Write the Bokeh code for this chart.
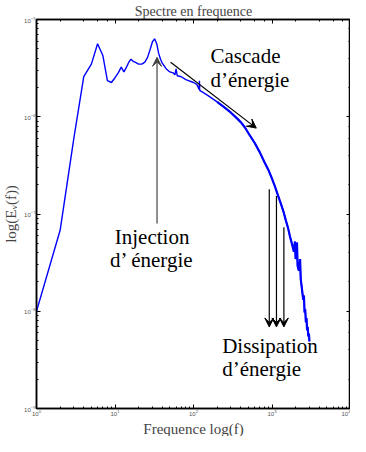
from bokeh.plotting import figure
from bokeh.models import Arrow, VeeHead, LogAxis, CustomJSTickFormatter, LogTicker, Title
from bokeh.core.properties import value
from bokeh.embed import file_html
from bokeh.resources import INLINE

# --- data (frequency, energy) ---
freq = [1, 2, 3, 4, 5, 6, 7, 8, 9, 10, 11, 12, 13, 14, 15, 16, 17, 18, 19, 20,
        22, 24, 26, 28, 30, 32, 34, 36, 38, 40, 45, 50, 55, 58, 60, 62, 70, 80,
        100, 110, 118, 119, 120, 150, 200, 250, 300, 350, 400, 450, 500, 600,
        700, 800, 900, 1000, 1100, 1200, 1300, 1400, 1500, 1600, 1700, 1800,
        1900, 1960, 2000, 2080, 2120, 2200, 2280, 2320, 2400, 2500, 2550, 2600,
        2650, 2700, 2750, 2800, 2850, 2900, 2950, 3000]
energy = [1.0e-8, 6.8e-8, 6.1e-7, 2.58e-6, 3.48e-6, 5.64e-6, 4.27e-6, 2.35e-6,
          2.25e-6, 2.52e-6, 2.83e-6, 3.24e-6, 2.89e-6, 3.24e-6, 3.64e-6, 3.90e-6,
          3.72e-6, 3.64e-6, 3.56e-6, 3.48e-6, 3.48e-6, 3.64e-6, 4.08e-6, 4.91e-6,
          5.90e-6, 6.32e-6, 5.64e-6, 4.48e-6, 3.90e-6, 3.56e-6, 3.10e-6, 2.89e-6,
          2.83e-6, 2.70e-6, 3.10e-6, 2.64e-6, 2.58e-6, 2.41e-6, 2.25e-6, 2.15e-6,
          1.91e-6, 2.35e-6, 1.87e-6, 1.67e-6, 1.42e-6, 1.24e-6, 1.10e-6, 9.8e-7,
          8.8e-7, 7.8e-7, 6.8e-7, 5.4e-7, 4.3e-7, 3.42e-7, 2.84e-7, 2.31e-7,
          1.88e-7, 1.53e-7, 1.27e-7, 1.06e-7, 8.6e-8, 7.2e-8, 5.8e-8, 4.9e-8,
          4.1e-8, 5.2e-8, 3.44e-8, 5.1e-8, 2.92e-8, 2.61e-8, 3.44e-8, 2.17e-8,
          1.73e-8, 1.31e-8, 1.45e-8, 9.7e-9, 1.05e-8, 7.7e-9, 8.5e-9, 6.4e-9,
          6.9e-9, 5.5e-9, 5.9e-9, 4.9e-9]

TITLE = "Spectre en frequence"
X_LABEL = "Frequence log(f)"
Y_LABEL = "log(Eᵥ(f))"
X_RANGE = (1, 1e4)
Y_RANGE = (1e-9, 1e-5)

# annotation anchors (data coordinates)
inj_x = 34.3
inj_y = (8.0e-8, 4.08e-6)
inj_text = ["Injection", "d\u2019 énergie"]
inj_text_pos = (29.7, [5.83e-8, 3.36e-8])

casc_start = (51.1, 3.64e-6)
casc_end = (631, 7.64e-7)
casc_text = ["Cascade", "d\u2019énergie"]
casc_text_pos = (164.8, [4.18e-6, 2.36e-6])

diss_x = [923, 1140, 1417]
diss_y_start = [1.80e-7, 1.53e-7, 7.3e-8]
diss_y_end = 6.9e-9
diss_text = ["Dissipation", "d\u2019énergie"]
diss_text_pos = (232, [4.35e-9, 2.56e-9])

SERIF = "Liberation Serif"

p = figure(width=350, height=436, x_axis_type="log", y_axis_type="log",
           x_range=X_RANGE, y_range=Y_RANGE, output_backend="svg",
           toolbar_location=None, title=TITLE,
           min_border_left=0, min_border_right=0, min_border_top=0, min_border_bottom=0)
p.title.align = "center"
p.title.text_font = SERIF
p.title.text_font_size = "14px"
p.title.text_font_style = "normal"
p.title.standoff = 2
p.title.offset = 0
p.xgrid.visible = False
p.ygrid.visible = False
p.outline_line_color = "black"
p.outline_line_width = 1.5

for ax in (p.xaxis[0], p.yaxis[0]):
    ax.major_tick_in = 4
    ax.major_tick_out = 0
    ax.minor_tick_in = 2
    ax.minor_tick_out = 0
    ax.axis_line_width = 1.5
    ax.major_label_text_font_size = "6px"
    ax.major_label_text_color = "#555555"
    ax.major_label_standoff = 1
    ax.axis_label_text_font = SERIF
    ax.axis_label_text_font_style = "normal"
    ax.axis_label_text_font_size = "15px"
    ax.axis_label_standoff = 2

p.yaxis.axis_label = Y_LABEL
p.add_layout(Title(text=X_LABEL, align="center", text_font=SERIF, text_font_size="15px",
                   text_font_style="normal", standoff=0, offset=0), "below")

blank = CustomJSTickFormatter(code="return ''")
for loc in ("above", "right"):
    a = LogAxis(ticker=LogTicker(), formatter=blank, major_tick_in=4, major_tick_out=0,
                minor_tick_in=2, minor_tick_out=0, major_label_standoff=0,
                major_label_text_font_size="0px", axis_line_width=1.5)
    p.add_layout(a, loc)

p.line(freq, energy, line_color="#0000FF", line_width=1.4)
tail = [i for i, f in enumerate(freq) if f >= 180]
p.line([freq[i] for i in tail], [energy[i] for i in tail], line_color="#0000FF", line_width=2.2)

FONT = value(SERIF)

# injection arrow
p.add_layout(Arrow(end=VeeHead(size=9, fill_color="#444444", line_color="#444444", line_width=1),
                   x_start=inj_x, y_start=inj_y[0], x_end=inj_x, y_end=inj_y[1],
                   line_color="#444444", line_width=1.2))
p.text(x=[inj_text_pos[0]] * 2, y=inj_text_pos[1], text=inj_text, text_align="center",
       text_baseline="middle", text_font=FONT, text_font_size="21px", text_color="black")

# cascade arrow
p.add_layout(Arrow(end=VeeHead(size=9, fill_color="black", line_color="black", line_width=1),
                   x_start=casc_start[0], y_start=casc_start[1],
                   x_end=casc_end[0], y_end=casc_end[1], line_color="black", line_width=1.2))
p.text(x=[casc_text_pos[0]] * 2, y=casc_text_pos[1], text=casc_text, text_align="left",
       text_baseline="middle", text_font=FONT, text_font_size="21px", text_color="black")

# dissipation arrows
for xs, ys in zip(diss_x, diss_y_start):
    p.add_layout(Arrow(end=VeeHead(size=9, fill_color="black", line_color="black", line_width=1),
                       x_start=xs, y_start=ys, x_end=xs, y_end=diss_y_end,
                       line_color="black", line_width=1.2))
p.text(x=[diss_text_pos[0]] * 2, y=diss_text_pos[1], text=diss_text, text_align="left",
       text_baseline="middle", text_font=FONT, text_font_size="21px", text_color="black")

open("out.html", "w").write(file_html(p, INLINE))
